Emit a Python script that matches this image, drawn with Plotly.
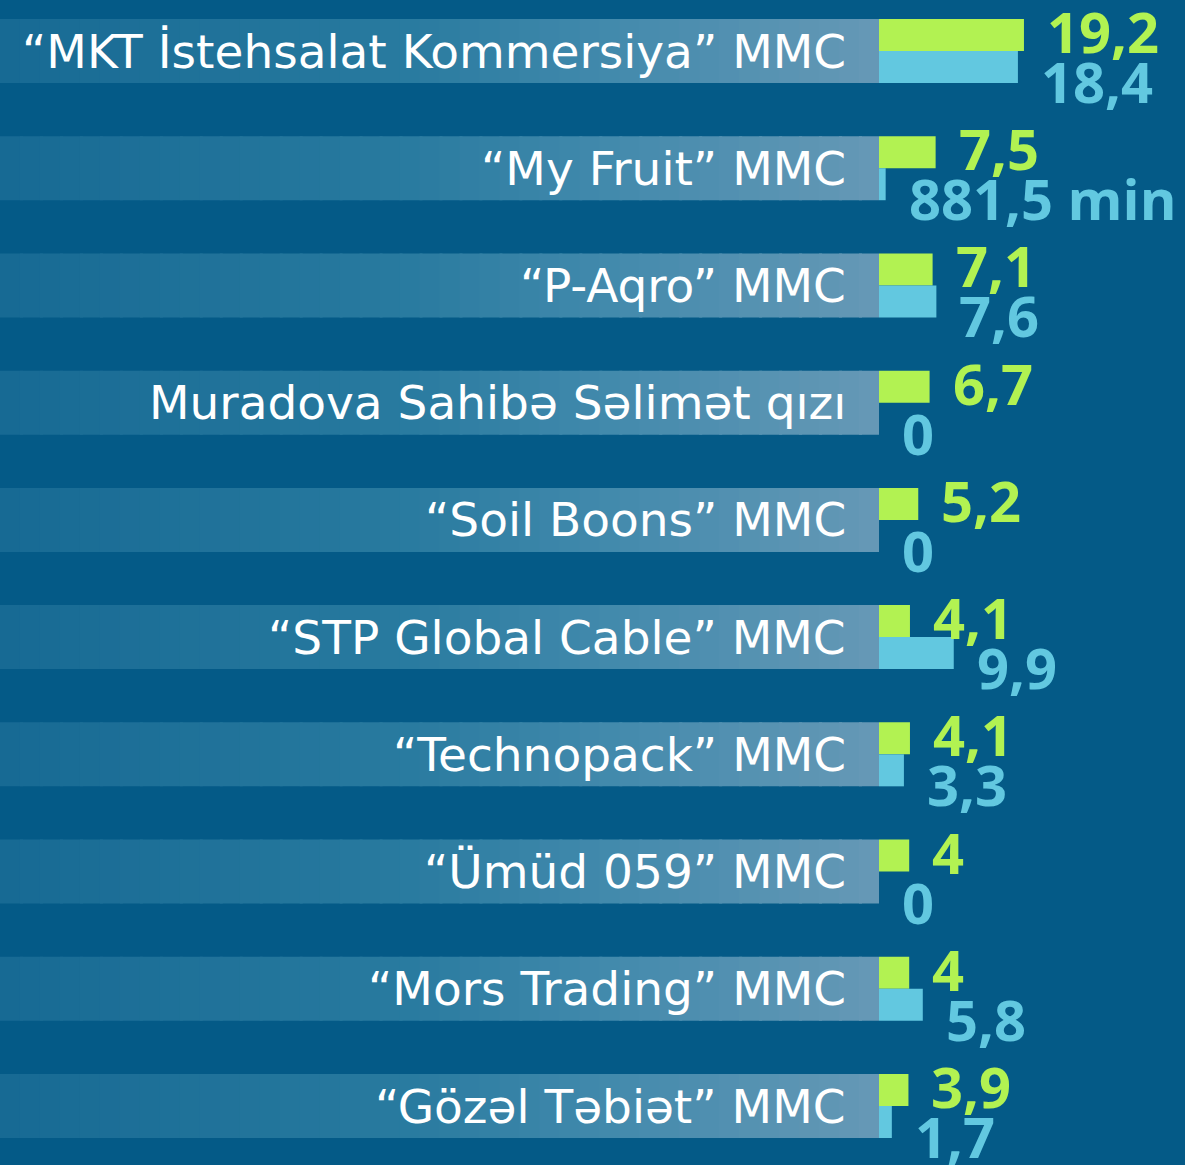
import plotly.graph_objects as go

companies = [
    "“MKT İstehsalat Kommersiya” MMC",
    "“My Fruit” MMC",
    "“P-Aqro” MMC",
    "Muradova Sahibə Səlimət qızı",
    "“Soil Boons” MMC",
    "“STP Global Cable” MMC",
    "“Technopack” MMC",
    "“Ümüd 059” MMC",
    "“Mors Trading” MMC",
    "“Gözəl Təbiət” MMC",
]
green_vals = [19.2, 7.5, 7.1, 6.7, 5.2, 4.1, 4.1, 4, 4, 3.9]
green_text = ["19,2", "7,5", "7,1", "6,7", "5,2", "4,1", "4,1", "4", "4", "3,9"]
cyan_vals = [18.4, 0.8815, 7.6, 0, 0, 9.9, 3.3, 0, 5.8, 1.7]
cyan_text = ["18,4", "881,5 min", "7,6", "0", "0", "9,9", "3,3", "0", "5,8", "1,7"]

BG = "#045a87"
GREEN = "#b2f252"
CYAN = "#62c8e0"
W, H = 1185, 1165
BAR0 = 879          # pixel where bars start
PXU = 7.55          # pixels per unit
ROW0, ROWN = 51, 1106
n = len(companies)
SP = (ROWN - ROW0) / (n - 1)
HALF = 32 / SP      # half band height in y units

xr = [-BAR0 / PXU, (W - BAR0) / PXU]
yr = [n - 1 + (H - ROWN) / SP, -ROW0 / SP]

ypos = list(range(n))

fig = go.Figure()
fig.add_bar(y=ypos, x=green_vals, orientation="h", marker=dict(color=GREEN, line_width=0),
            hoverinfo="skip")
fig.add_bar(y=ypos, x=cyan_vals, orientation="h", marker=dict(color=CYAN, line_width=0),
            hoverinfo="skip")

# gradient bands behind labels
stops = [(0, (0x17, 0x6a, 0x94)), (400, (0x28, 0x7a, 0x9f)), (600, (0x41, 0x89, 0xac)),
         (BAR0, (0x66, 0x99, 0xb6))]


def col_at(px):
    for (a, ca), (b, cb) in zip(stops[:-1], stops[1:]):
        if a <= px <= b:
            t = (px - a) / (b - a)
            return "rgb(%d,%d,%d)" % tuple(round(ca[k] + (cb[k] - ca[k]) * t) for k in range(3))
    return "rgb(%d,%d,%d)" % stops[-1][1]


NS = 44
shapes = []
for i in ypos:
    for s in range(NS):
        p0 = BAR0 * s / NS
        p1 = BAR0 * (s + 1) / NS
        x1 = (p1 - BAR0) / PXU + (0.4 if s < NS - 1 else 0)
        shapes.append(dict(type="rect", xref="x", yref="y", layer="below",
                           x0=(p0 - BAR0) / PXU, x1=x1,
                           y0=i - HALF, y1=i + HALF, line_width=0,
                           fillcolor=col_at((p0 + p1) / 2)))

ann = []
for i, name in enumerate(companies):
    ann.append(dict(x=0, y=i, xref="x", yref="y", text=name, showarrow=False,
                    xanchor="right", yanchor="middle", xshift=-31, yshift=0,
                    font=dict(family="DejaVu Sans", size=47, color="white")))
    ann.append(dict(x=green_vals[i], y=i - HALF / 2, xref="x", yref="y", text=green_text[i],
                    showarrow=False, xanchor="left", yanchor="middle", xshift=21, yshift=4,
                    font=dict(family="Open Sans", size=56, color=GREEN, weight="bold")))
    ann.append(dict(x=cyan_vals[i], y=i + HALF / 2, xref="x", yref="y", text=cyan_text[i],
                    showarrow=False, xanchor="left", yanchor="middle", xshift=21, yshift=-14,
                    font=dict(family="Open Sans", size=56, color=CYAN, weight="bold")))

fig.update_layout(
    width=W, height=H, margin=dict(l=0, r=0, t=0, b=0),
    paper_bgcolor=BG, plot_bgcolor=BG,
    barmode="group", bargap=1 - 2 * HALF, bargroupgap=0,
    showlegend=False,
    xaxis=dict(range=xr, visible=False, fixedrange=True),
    yaxis=dict(range=yr, visible=False, fixedrange=True),
    shapes=shapes, annotations=ann,
)
fig.write_html("out.html", config={"displayModeBar": False},
               post_script="document.body.style.margin='0';document.body.style.background='%s';" % BG)
